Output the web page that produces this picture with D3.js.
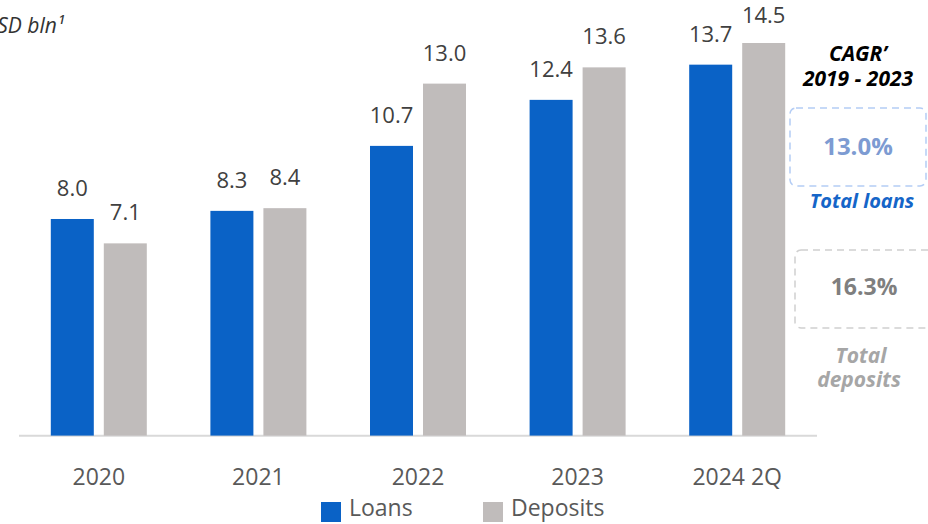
<!DOCTYPE html>
<html>
<head>
<meta charset="utf-8">
<script src="https://cdn.jsdelivr.net/npm/d3@7"></script>
<style>
  body { margin: 0; background: #fff; }
  svg { display: block; font-family: "Open Sans", "Noto Sans", sans-serif; }
</style>
</head>
<body>
<svg width="928" height="524"></svg>
<script>
// data
const years = ["2020", "2021", "2022", "2023", "2024 2Q"];
const loans = [8.0, 8.3, 10.7, 12.4, 13.7];
const deposits = [7.1, 8.4, 13.0, 13.6, 14.5];
const seriesNames = ["Loans", "Deposits"];
const cagrLoans = "13.0%";
const cagrDeposits = "16.3%";

const blue = "#0a62c6", grey = "#c0bcbb";

const svg = d3.select("svg");

// scales
const x = d3.scaleBand().domain(years).range([19, 817]);
const y = d3.scaleLinear().domain([0, 14.5]).range([435.6, 43]);

const barW = 43, barGap = 10;
const rows = years.map((yr, i) => ({ year: yr, loans: loans[i], deposits: deposits[i] }));

// baseline
svg.append("line")
  .attr("x1", 19).attr("x2", 817)
  .attr("y1", 435.8).attr("y2", 435.8)
  .attr("stroke", "#d9d9d9").attr("stroke-width", 2);

// bars
const groups = svg.selectAll("g.grp").data(rows).enter().append("g")
  .attr("class", "grp")
  .attr("transform", d => `translate(${x(d.year) + x.bandwidth() / 2}, 0)`);

groups.append("rect")
  .attr("x", -barW - barGap / 2)
  .attr("y", d => y(d.loans))
  .attr("width", barW)
  .attr("height", d => y(0) - y(d.loans))
  .attr("fill", blue);

groups.append("rect")
  .attr("x", barGap / 2)
  .attr("y", d => y(d.deposits))
  .attr("width", barW)
  .attr("height", d => y(0) - y(d.deposits))
  .attr("fill", grey);

// value labels
groups.append("text")
  .attr("x", -barW / 2 - barGap / 2)
  .attr("y", d => y(d.loans) - 23)
  .attr("text-anchor", "middle")
  .attr("font-size", "22px")
  .attr("fill", "#404040")
  .text(d => d.loans.toFixed(1));

groups.append("text")
  .attr("x", barW / 2 + barGap / 2)
  .attr("y", d => Math.max(y(d.deposits) - 23, 23))
  .attr("text-anchor", "middle")
  .attr("font-size", "22px")
  .attr("fill", "#404040")
  .text(d => d.deposits.toFixed(1));

// category labels
const xAxis = d3.axisBottom(x).tickSize(0).tickPadding(0);
const ax = svg.append("g").attr("transform", "translate(0, 485)").call(xAxis);
ax.select(".domain").remove();
ax.selectAll("text")
  .attr("dy", 0)
  .attr("font-size", "23px")
  .attr("font-family", "\"Open Sans\", sans-serif")
  .attr("fill", "#595959");

// unit label (cut off at left edge)
svg.append("text")
  .attr("x", -17).attr("y", 33)
  .attr("font-size", "21px")
  .attr("font-style", "italic")
  .attr("fill", "#333")
  .text("USD bln¹");

// legend
const legend = svg.append("g");
const legendX = [321, 483];
seriesNames.forEach((name, i) => {
  legend.append("rect")
    .attr("x", legendX[i]).attr("y", 502)
    .attr("width", 20).attr("height", 20)
    .attr("fill", i === 0 ? blue : grey);
  legend.append("text")
    .attr("x", legendX[i] + 28).attr("y", 516)
    .attr("font-size", "23px")
    .attr("fill", "#595959")
    .text(name);
});

// CAGR panel
const side = svg.append("g");
side.append("text").attr("x", 858).attr("y", 61)
  .attr("text-anchor", "middle").attr("font-size", "21px")
  .attr("font-weight", "bold").attr("font-style", "italic").attr("fill", "#000")
  .text("CAGR’");
side.append("text").attr("x", 858).attr("y", 86)
  .attr("text-anchor", "middle").attr("font-size", "21px")
  .attr("font-weight", "bold").attr("font-style", "italic").attr("fill", "#000")
  .text("2019 - 2023");

side.append("rect")
  .attr("x", 790).attr("y", 108).attr("width", 136).attr("height", 78)
  .attr("rx", 6)
  .attr("fill", "none").attr("stroke", "#b4cdf5").attr("stroke-width", 1.5)
  .attr("stroke-dasharray", "7,5");
side.append("text").attr("x", 858).attr("y", 155)
  .attr("text-anchor", "middle").attr("font-size", "24px")
  .attr("font-weight", "bold").attr("fill", "#7d9bd2")
  .text(cagrLoans);
side.append("text").attr("x", 862).attr("y", 208)
  .attr("text-anchor", "middle").attr("font-size", "20px")
  .attr("font-weight", "bold").attr("font-style", "italic").attr("fill", "#1565c8")
  .text("Total loans");

side.append("rect")
  .attr("x", 795).attr("y", 250).attr("width", 140).attr("height", 78)
  .attr("rx", 6)
  .attr("fill", "none").attr("stroke", "#d0d0d0").attr("stroke-width", 1.5)
  .attr("stroke-dasharray", "7,5");
side.append("text").attr("x", 864).attr("y", 295)
  .attr("text-anchor", "middle").attr("font-size", "23px")
  .attr("font-weight", "bold").attr("fill", "#7f7f7f")
  .text(cagrDeposits);
side.append("text").attr("x", 861).attr("y", 363)
  .attr("text-anchor", "middle").attr("font-size", "21px")
  .attr("font-weight", "bold").attr("font-style", "italic").attr("fill", "#a6a6a6")
  .text("Total");
side.append("text").attr("x", 859).attr("y", 387)
  .attr("text-anchor", "middle").attr("font-size", "21px")
  .attr("font-weight", "bold").attr("font-style", "italic").attr("fill", "#a6a6a6")
  .text("deposits");
</script>
</body>
</html>
